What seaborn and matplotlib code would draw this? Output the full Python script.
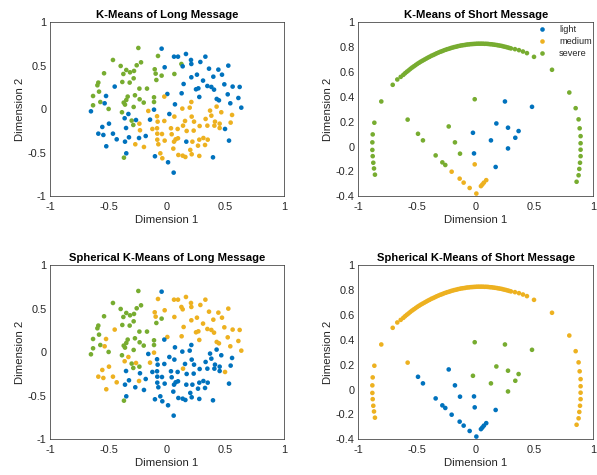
import matplotlib
matplotlib.use("Agg")
import matplotlib.pyplot as plt
import pandas as pd
import seaborn as sns

# ---------------- Long message (2-D embedding) ----------------
long_x = [-0.245, -0.046, -0.077, 0.060, 0.094, 0.162, 0.328, -0.462, 0.205, -0.222,
          0.285, -0.259, -0.396, 0.123, 0.134, 0.208, 0.524, -0.020, 0.359, 0.439,
          -0.348, -0.316, -0.282, -0.373, -0.538, -0.105, -0.097, -0.046, 0.063, 0.256,
          0.396, 0.470, 0.208, -0.285, -0.091, -0.382, -0.319, 0.308, 0.142, 0.345,
          0.379, 0.490, 0.561, 0.621, -0.587, -0.595, -0.447, -0.236, -0.171, 0.248,
          0.268, 0.402, -0.581, 0.003, 0.125, 0.519, -0.274, -0.336, -0.234, -0.348,
          -0.111, -0.023, 0.276, 0.425, 0.444, 0.610, -0.521, -0.632, -0.570, -0.533,
          -0.370, -0.359, -0.199, -0.111, 0.208, 0.068, 0.541, -0.632, -0.285, -0.650,
          -0.499, 0.131,
          -0.160, -0.111, 0.020, 0.063, 0.194, 0.368, 0.424, 0.464, 0.635, -0.330, -0.385,
          -0.362, -0.302, -0.265, -0.236, -0.145, -0.085, -0.080, -0.023, 0.154, 0.211,
          0.231, 0.330, 0.379, 0.410, 0.450, 0.556, 0.544, -0.496, -0.553,
          -0.288, -0.350, -0.231, -0.125, -0.085, 0.034, 0.091, 0.137, 0.168, 0.228,
          0.279, 0.345, 0.405, 0.450, 0.496, -0.587, -0.544, -0.462, -0.430, -0.325,
          -0.239, -0.182, -0.083, -0.043, 0.040, 0.094, -0.020, -0.083,
          -0.359, -0.271, -0.197, -0.074, 0.060, 0.074, 0.165, 0.217, 0.276, 0.311,
          0.348, 0.265, 0.325, 0.530, -0.519, 0.054, 0.199,
          -0.348, -0.368, -0.057, -0.103, -0.040, 0.097, 0.134, 0.157, 0.211, 0.276,
          0.393, 0.009, 0.057]
long_y = [0.705, 0.697, 0.613, 0.605, 0.605, 0.636, 0.605, 0.567, 0.567, 0.540,
          0.544, 0.506, 0.498, 0.521, 0.494, 0.521, 0.502, 0.483, 0.467, 0.456,
          0.452, 0.425, 0.441, 0.406, 0.414, 0.460, 0.410, 0.387, 0.406, 0.398,
          0.375, 0.398, 0.368, 0.356, 0.337, 0.314, 0.307, 0.330, 0.291, 0.268,
          0.257, 0.287, 0.261, 0.257, 0.307, 0.276, 0.261, 0.238, 0.238, 0.230,
          0.241, 0.226, 0.203, 0.176, 0.184, 0.172, 0.161, 0.146, 0.115, 0.107,
          0.138, 0.146, 0.142, 0.119, 0.103, 0.130, 0.153, 0.153, 0.084, 0.069,
          0.077, 0.054, 0.077, 0.084, 0.084, 0.057, 0.069, 0.046, 0.027, -0.023,
          0.004, 0.008,
          -0.019, -0.004, -0.054, -0.084, 0.019, -0.015, 0.031, -0.034, 0.019, -0.054, -0.034,
          -0.103, -0.130, -0.123, -0.165, -0.119, -0.080, -0.142, -0.134, -0.134, -0.084,
          -0.142, -0.111, -0.073, -0.142, -0.165, -0.065, -0.153, -0.165, -0.203,
          -0.180, -0.215, -0.241, -0.226, -0.218, -0.218, -0.226, -0.188, -0.249, -0.245,
          -0.192, -0.188, -0.188, -0.215, -0.226, -0.280, -0.295, -0.280, -0.345, -0.322,
          -0.330, -0.307, -0.280, -0.284, -0.287, -0.333, -0.360, -0.349,
          -0.372, -0.402, -0.433, -0.402, -0.372, -0.345, -0.372, -0.372, -0.349, -0.330,
          -0.349, -0.418, -0.410, -0.360, -0.425, -0.452, -0.467,
          -0.506, -0.556, -0.506, -0.540, -0.563, -0.525, -0.533, -0.548, -0.517, -0.536,
          -0.552, -0.609, -0.728]
# cluster codes per point: b = light, m = medium, s = severe
long_km_codes = ("sbsbbbbsbs" "bsssbbbbbb" "sssssssssb" "bbbssssbbb" "bbbbssbssb"
                 "bbsbbbssss" "smbbbbbssb" "ssssmbbssb" "sm"
                 "mbbmmmmmbbs"
                 "bsbmbmmmmmmmmmmmmbb"
                 "sbmmmmmmmmmmmmbbbbbbbbmmmmmm"
                 "bmmmmmbmmmmmmbbmm"
                 "bsmbmmmmmmbbb")
long_skm_codes = ("sbmmmmmsms" "mssmmmmmmm" "sssssmmsmm" "mmmssssmmm" "mmmmssmssm"
                  "mmsmmmssss" "sbmmmmmssm" "ssssbbmsss" "sb"
                  "bmbbbbbbmms"
                  "msmsmbbbbbbbbbbbbmm"
                  "sbbbbbbmbbbbbbmmmmmbmbbbbbbb"
                  "bbbbbbbbbbbbbbmbb"
                  "bsbbbbbbbbbbb")

# ---------------- Short message (2-D embedding) ----------------
short_left_x = [-0.861, -0.875, -0.878, -0.878, -0.875, -0.870, -0.864, -0.856]
short_left_y = [0.192, 0.098, 0.034, -0.027, -0.077, -0.130, -0.176, -0.226]
short_right_x = [0.850, 0.875, 0.884, 0.892, 0.892, 0.892, 0.892, 0.887, 0.881, 0.875, 0.858]
short_right_y = [0.309, 0.219, 0.147, 0.084, 0.027, -0.025, -0.077, -0.130, -0.180, -0.231, -0.283]
short_outer_x = [-0.802, 0.796, 0.649, 0.496]
short_outer_y = [0.363, 0.435, 0.618, 0.722]
short_arc_x = [-0.705, -0.666, -0.637, -0.615,
               -0.600, -0.585, -0.570, -0.555, -0.540, -0.525, -0.510, -0.495, -0.480, -0.465,
               -0.450, -0.435, -0.420, -0.405, -0.390, -0.375, -0.360, -0.345, -0.330, -0.315,
               -0.300, -0.285, -0.270, -0.255, -0.240, -0.225, -0.210, -0.195, -0.180, -0.165,
               -0.150, -0.135, -0.120, -0.105, -0.090, -0.075, -0.060, -0.045, -0.030, -0.015,
               0.000, 0.015, 0.030, 0.045, 0.060, 0.075, 0.090, 0.105, 0.120, 0.135,
               0.150, 0.165, 0.180, 0.195, 0.210, 0.225, 0.240, 0.255, 0.270, 0.285, 0.300,
               0.334, 0.368, 0.402, 0.436]
short_arc_y = [0.497, 0.540, 0.561, 0.577,
               0.590, 0.602, 0.613, 0.625, 0.636, 0.646, 0.656, 0.666, 0.675, 0.684,
               0.692, 0.700, 0.708, 0.716, 0.723, 0.731, 0.737, 0.744, 0.751, 0.757,
               0.763, 0.768, 0.774, 0.779, 0.784, 0.788, 0.793, 0.797, 0.801, 0.804,
               0.808, 0.811, 0.814, 0.816, 0.818, 0.821, 0.822, 0.824, 0.825, 0.826,
               0.827, 0.828, 0.828, 0.828, 0.828, 0.827, 0.827, 0.826, 0.824, 0.823,
               0.821, 0.819, 0.817, 0.814, 0.812, 0.809, 0.805, 0.802, 0.798, 0.794, 0.790,
               0.784, 0.776, 0.765, 0.752]
short_inner_x = [-0.578, -0.008,
                 -0.490, -0.448, -0.229, -0.176, -0.340, -0.283, -0.258, -0.133,
                 0.249, 0.479, 0.176, 0.275, 0.365, 0.337, 0.130, -0.023, 0.275,
                 -0.014, 0.170,
                 -0.008, -0.204, -0.136, -0.102, -0.051, 0.006, 0.045, 0.057, 0.070, 0.090]
short_inner_y = [0.217, 0.381,
                 0.103, 0.050, 0.162, 0.034, -0.071, -0.127, -0.148, -0.057,
                 0.363, 0.320, 0.186, 0.152, 0.125, 0.071, 0.050, 0.111, -0.015,
                 -0.055, -0.164,
                 -0.143, -0.202, -0.258, -0.290, -0.333, -0.378, -0.318, -0.305, -0.290, -0.270]
short_inner_km_codes = "ss" "ssssssss" "bbbbbbbbb" "bb" "mmmmmmmmmm"
short_inner_skm_codes = "ms" "bbbbbbbb" "sssssssss" "bb" "bbbbbbbbbb"

code_names = {"b": "light", "m": "medium", "s": "severe"}
levels = ["light", "medium", "severe"]
palette = {"light": "#0072BD", "medium": "#EDB120", "severe": "#77AC30"}

long_df = pd.DataFrame({"x": long_x, "y": long_y,
                        "km": [code_names[c] for c in long_km_codes],
                        "skm": [code_names[c] for c in long_skm_codes]})

outer_x = short_left_x + short_right_x + short_outer_x + short_arc_x
outer_y = short_left_y + short_right_y + short_outer_y + short_arc_y
short_df = pd.DataFrame({
    "x": outer_x + short_inner_x,
    "y": outer_y + short_inner_y,
    "km": ["severe"] * len(outer_x) + [code_names[c] for c in short_inner_km_codes],
    "skm": ["medium"] * len(outer_x) + [code_names[c] for c in short_inner_skm_codes],
})

sns.set_style("white")
plt.rcParams["font.family"] = ["Liberation Sans", "DejaVu Sans"]
plt.rcParams["axes.unicode_minus"] = False

fig = plt.figure(figsize=(5.97, 4.75), dpi=100)
W, H = 597, 475


def add_axes(l, t, r, b):
    return fig.add_axes([l / W, 1 - b / H, (r - l) / W, (b - t) / H])


ax_tl = add_axes(50, 22.3, 284, 196.3)
ax_tr = add_axes(358, 22.3, 593.3, 196.3)
ax_bl = add_axes(50, 265.3, 284, 439.3)
ax_br = add_axes(358, 265.3, 593.3, 439.3)

panels = [
    (ax_tl, long_df, "km", "K-Means of Long Message", "long", False),
    (ax_tr, short_df, "km", "K-Means of Short Message", "short", True),
    (ax_bl, long_df, "skm", "Spherical K-Means of Long Message", "long", False),
    (ax_br, short_df, "skm", "Spherical K-Means of Short Message", "short", False),
]

txt = "#262626"
for ax, df, hue, title, kind, show_leg in panels:
    sns.scatterplot(data=df, x="x", y="y", hue=hue, hue_order=levels, palette=palette,
                    s=11, linewidth=0, ax=ax, legend=show_leg)
    ax.set_xlim(-1, 1)
    ax.set_xticks([-1, -0.5, 0, 0.5, 1])
    ax.set_xticklabels(["-1", "-0.5", "0", "0.5", "1"])
    if kind == "long":
        ax.set_ylim(-1, 1)
        ax.set_yticks([-1, -0.5, 0, 0.5, 1])
        ax.set_yticklabels(["-1", "-0.5", "0", "0.5", "1"])
    else:
        ax.set_ylim(-0.4, 1)
        ax.set_yticks([-0.4, -0.2, 0, 0.2, 0.4, 0.6, 0.8, 1])
        ax.set_yticklabels(["-0.4", "-0.2", "0", "0.2", "0.4", "0.6", "0.8", "1"])
    ax.set_title(title, fontsize=8.1, fontweight="bold", color="black", pad=3)
    ax.set_xlabel("Dimension 1", fontsize=8.2, color=txt, labelpad=2.5)
    ax.set_ylabel("Dimension 2", fontsize=8.2, color=txt, labelpad=2)
    ax.tick_params(axis="both", direction="in", length=2.2, width=0.5, colors=txt,
                   labelsize=7.9, top=False, right=False)
    ax.tick_params(axis="x", pad=4)
    ax.tick_params(axis="y", pad=2.5)
    for sp in ax.spines.values():
        sp.set_visible(True)
        sp.set_color(txt)
        sp.set_linewidth(0.5)
    if show_leg:
        leg = ax.legend(loc="upper left", bbox_to_anchor=(0.765, 0.985), frameon=False,
                        fontsize=6.6, handlelength=0.8, handletextpad=1.5,
                        labelspacing=0.35, borderpad=0, borderaxespad=0)
        for t in leg.get_texts():
            t.set_color(txt)

fig.savefig("out.png", dpi=100, facecolor="white")
